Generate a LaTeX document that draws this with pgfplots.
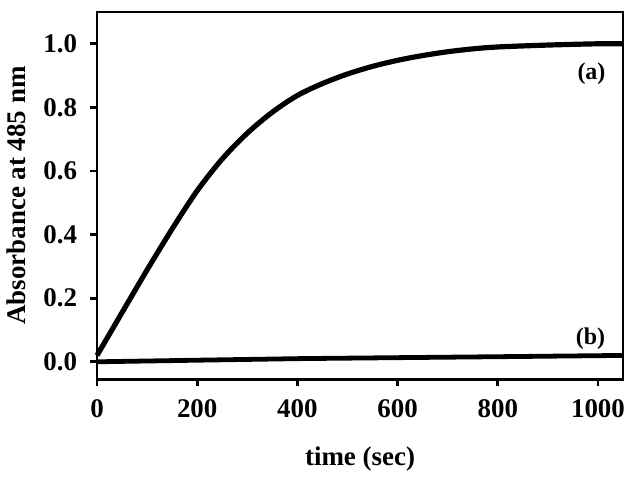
\documentclass[border=0pt]{standalone}
\usepackage{fontspec}
\setmainfont{Liberation Serif}
\usepackage{pgfplots}
\pgfplotsset{compat=1.18}

\begin{document}
\begin{tikzpicture}
\begin{axis}[
    name=ax,
    scale only axis,
    width=263.5pt, height=184pt,
    xmin=0, xmax=1050,
    ymin=-0.055, ymax=1.1,
    xtick={0,200,400,600,800,1000},
    ytick={0,0.2,0.4,0.6,0.8,1.0},
    x tick label style={/pgf/number format/1000 sep={}},
    y tick label style={/pgf/number format/fixed, /pgf/number format/fixed zerofill, /pgf/number format/precision=1},
    /pgf/number format/assume math mode=true,
    tick align=outside,
    tick pos=left,
    major tick length=3.5pt,
    axis line style={line width=1.4pt},
    every tick/.style={line width=1.4pt, black},
    ticklabel style={font=\fontsize{13.5}{16}\selectfont\bfseries},
    xticklabel style={yshift=-3pt},
    yticklabel style={xshift=-3pt},
    label style={font=\fontsize{13.5}{16}\selectfont\bfseries},
    xlabel={time (sec)},
    ylabel={Absorbance at 485 nm},
    xlabel style={yshift=-8pt},
    ylabel style={yshift=2pt},
    clip=false,
]
% curve (a)
\addplot[black, line width=2.6pt, smooth, tension=0.5] coordinates {
    (0,0.02) (50,0.155) (100,0.289) (150,0.418) (200,0.538)
    (250,0.638) (300,0.719) (350,0.785) (400,0.8375) (450,0.875)
    (500,0.905) (550,0.929) (600,0.948) (650,0.963) (700,0.975)
    (750,0.984) (800,0.99) (900,0.996) (1000,1.0) (1050,1.0)
};
% curve (b)
\addplot[black, line width=2.4pt] coordinates {
    (0,0.0) (200,0.005) (405,0.01) (600,0.013) (800,0.016) (1050,0.02)
};
\node[font=\fontsize{12}{14}\selectfont\bfseries] at (axis cs:987,0.907) {(a)};
\node[font=\fontsize{12}{14}\selectfont\bfseries] at (axis cs:985,0.073) {(b)};
\end{axis}
\path ([shift={(4.5pt,6pt)}]ax.north east);
\end{tikzpicture}
\end{document}
